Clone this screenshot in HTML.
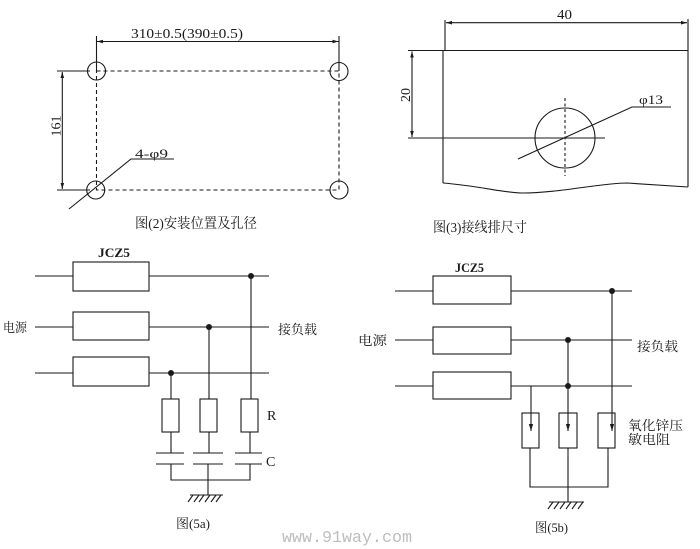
<!DOCTYPE html>
<html><head><meta charset="utf-8">
<style>
html,body{margin:0;padding:0;background:#fff;}
svg{display:block;}
text{font-family:"Liberation Serif","Noto Serif CJK SC","Noto Sans CJK SC",serif;fill:#1a1a1a;}
.cjk{font-family:"Liberation Serif","Noto Serif CJK SC","Noto Sans CJK SC",serif;}
</style></head>
<body>
<svg width="700" height="549" viewBox="0 0 700 549" xmlns="http://www.w3.org/2000/svg">
<defs>
<marker id="ar" viewBox="0 0 10 10" refX="10" refY="5" markerWidth="6" markerHeight="6" orient="auto-start-reverse" markerUnits="userSpaceOnUse">
<path d="M0,2 L10,5 L0,8 z" fill="#1a1a1a"/>
</marker>
<marker id="ad" viewBox="0 0 10 10" refX="10" refY="5" markerWidth="7" markerHeight="7" orient="auto" markerUnits="userSpaceOnUse">
<path d="M0,2 L10,5 L0,8 z" fill="#1a1a1a"/>
</marker>
</defs>
<g stroke="#1a1a1a" stroke-width="1.1" fill="none">
<!-- Fig 2 -->
<line x1="96.5" y1="36" x2="96.5" y2="71"/>
<line x1="339" y1="36" x2="339" y2="71"/>
<line x1="97" y1="41.5" x2="338.5" y2="41.5" marker-start="url(#ar)" marker-end="url(#ar)"/>
<rect x="96.5" y="71" width="242.5" height="119" stroke-dasharray="4,3"/>
<circle cx="96.5" cy="71" r="9"/>
<circle cx="339" cy="71.5" r="9"/>
<circle cx="95.7" cy="190" r="9"/>
<circle cx="339" cy="190" r="9"/>
<line x1="57" y1="71" x2="90" y2="71"/>
<line x1="57" y1="190" x2="90" y2="190"/>
<line x1="62.3" y1="72" x2="62.3" y2="189" marker-start="url(#ar)" marker-end="url(#ar)"/>
<polyline points="69,209 131,159 174,159"/>

<!-- Fig 3 -->
<line x1="445" y1="20" x2="445" y2="50"/>
<line x1="688" y1="19" x2="688" y2="50"/>
<line x1="446" y1="22.7" x2="687" y2="22.7" marker-start="url(#ar)" marker-end="url(#ar)"/>
<line x1="443" y1="50" x2="443" y2="183"/>
<line x1="443" y1="50.5" x2="688" y2="50.5"/>
<line x1="688" y1="50" x2="688" y2="187"/>
<path d="M443,183 C480,186 505,193 522,193 C560,193 600,183 627,183 L688,187"/>
<line x1="408" y1="50.5" x2="443" y2="50.5"/>
<line x1="408" y1="138" x2="605" y2="138"/>
<line x1="412" y1="51.5" x2="412" y2="137" marker-start="url(#ar)" marker-end="url(#ar)"/>
<circle cx="565" cy="138" r="30"/>
<line x1="565" y1="98" x2="565" y2="176" stroke-dasharray="3,2.5"/>
<polyline points="518,159 632,107 671,107"/>

<!-- Fig 5a -->
<rect x="73" y="262" width="76" height="29"/>
<rect x="73" y="312" width="76" height="28"/>
<rect x="73" y="357" width="76" height="29"/>
<line x1="35" y1="276" x2="73" y2="276"/>
<line x1="149" y1="276" x2="269" y2="276"/>
<line x1="35" y1="327" x2="73" y2="327"/>
<line x1="149" y1="327" x2="269" y2="327"/>
<line x1="35" y1="373" x2="73" y2="373"/>
<line x1="149" y1="373" x2="269" y2="373"/>
<line x1="251" y1="276" x2="251" y2="399"/>
<line x1="209" y1="327" x2="209" y2="399"/>
<line x1="171" y1="373" x2="171" y2="399"/>
<rect x="162" y="399" width="17" height="33"/>
<rect x="200" y="399" width="17" height="33"/>
<rect x="241" y="399" width="17" height="33"/>
<line x1="171" y1="432" x2="171" y2="453"/>
<line x1="209" y1="432" x2="209" y2="453"/>
<line x1="250" y1="432" x2="250" y2="453"/>
<line x1="156" y1="453" x2="184" y2="453"/>
<line x1="156" y1="464" x2="184" y2="464"/>
<line x1="193" y1="453" x2="223" y2="453"/>
<line x1="193" y1="464" x2="223" y2="464"/>
<line x1="235" y1="453" x2="262" y2="453"/>
<line x1="235" y1="464" x2="262" y2="464"/>
<polyline points="171,464 171,480 250,480 250,464"/>
<line x1="208" y1="464" x2="208" y2="495"/>
<line x1="190" y1="495" x2="223" y2="495"/>
<path d="M193,495 l-5,7 M199,495 l-5,7 M204,495 l-5,7 M210,495 l-5,7 M216,495 l-5,7 M221,495 l-5,7"/>

<!-- Fig 5b -->
<rect x="433" y="276" width="78" height="28"/>
<rect x="433" y="327" width="78" height="27"/>
<rect x="433" y="372" width="78" height="27"/>
<line x1="395" y1="291" x2="433" y2="291"/>
<line x1="511" y1="291" x2="632" y2="291"/>
<line x1="395" y1="340" x2="433" y2="340"/>
<line x1="511" y1="340" x2="632" y2="340"/>
<line x1="395" y1="386" x2="433" y2="386"/>
<line x1="511" y1="386" x2="632" y2="386"/>
<line x1="612" y1="291" x2="612" y2="431" marker-end="url(#ad)"/>
<line x1="568" y1="340" x2="568" y2="431" marker-end="url(#ad)"/>
<line x1="531" y1="386" x2="531" y2="431" marker-end="url(#ad)"/>
<rect x="522" y="413" width="17" height="35"/>
<rect x="559" y="413" width="18" height="35"/>
<rect x="598" y="413" width="17" height="35"/>
<polyline points="530,448 530,487 608,487 608,448"/>
<line x1="568" y1="448" x2="568" y2="502"/>
<line x1="549" y1="502" x2="584" y2="502"/>
<path d="M553,502 l-5,7 M559,502 l-5,7 M565,502 l-5,7 M571,502 l-5,7 M577,502 l-5,7 M583,502 l-5,7"/>
</g>
<g fill="#1a1a1a">
<circle cx="251" cy="276" r="3"/>
<circle cx="209" cy="327" r="3"/>
<circle cx="171" cy="373" r="3"/>
<circle cx="612" cy="291" r="3"/>
<circle cx="568" cy="340" r="3"/>
<circle cx="568" cy="386" r="3"/>
</g>

<!-- texts -->
<text x="131" y="38" font-size="14" textLength="112" lengthAdjust="spacingAndGlyphs">310±0.5(390±0.5)</text>
<text x="135" y="158" font-size="13" textLength="33" lengthAdjust="spacingAndGlyphs">4-φ9</text>
<text transform="translate(60.5,126) rotate(-90)" text-anchor="middle" font-size="14">161</text>
<text class="cjk" x="135" y="228" font-size="14" textLength="122" lengthAdjust="spacingAndGlyphs">图(2)安装位置及孔径</text>

<text x="557" y="19" font-size="14" textLength="15" lengthAdjust="spacingAndGlyphs">40</text>
<text transform="translate(410,95) rotate(-90)" text-anchor="middle" font-size="14">20</text>
<text x="639" y="104" font-size="13" textLength="24" lengthAdjust="spacingAndGlyphs">φ13</text>
<text class="cjk" x="433" y="232" font-size="14" textLength="94" lengthAdjust="spacingAndGlyphs">图(3)接线排尺寸</text>

<text x="98" y="257" font-size="13" font-weight="bold" textLength="32" lengthAdjust="spacingAndGlyphs">JCZ5</text>
<text class="cjk" x="3" y="332" font-size="13" textLength="24" lengthAdjust="spacingAndGlyphs">电源</text>
<text class="cjk" x="278" y="334" font-size="13" textLength="39" lengthAdjust="spacingAndGlyphs">接负载</text>
<text x="267" y="420" font-size="14">R</text>
<text x="266" y="466" font-size="14">C</text>
<text class="cjk" x="176" y="528" font-size="13" textLength="34" lengthAdjust="spacingAndGlyphs">图(5a)</text>

<text x="455" y="272" font-size="13" font-weight="bold" textLength="29" lengthAdjust="spacingAndGlyphs">JCZ5</text>
<text class="cjk" x="358" y="345" font-size="13" textLength="29" lengthAdjust="spacingAndGlyphs">电源</text>
<text class="cjk" x="637" y="351" font-size="13" textLength="41" lengthAdjust="spacingAndGlyphs">接负载</text>
<text class="cjk" x="628" y="430" font-size="13" textLength="55" lengthAdjust="spacingAndGlyphs">氧化锌压</text>
<text class="cjk" x="628" y="444" font-size="13" textLength="42" lengthAdjust="spacingAndGlyphs">敏电阻</text>
<text class="cjk" x="535" y="532" font-size="13" textLength="33" lengthAdjust="spacingAndGlyphs">图(5b)</text>

<text x="282" y="542" font-size="16.5" style="font-family:'Liberation Mono',monospace;fill:#bdbdbd" textLength="130" lengthAdjust="spacingAndGlyphs">www.91way.com</text>
</svg>
</body></html>
